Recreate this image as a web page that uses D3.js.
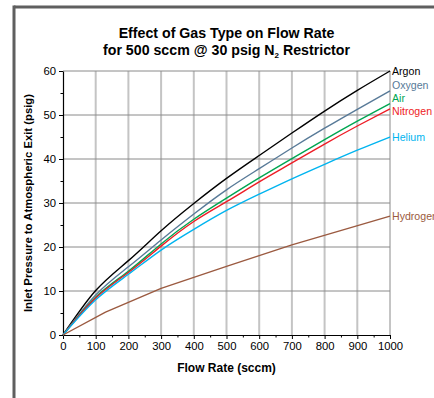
<!DOCTYPE html>
<html><head><meta charset="utf-8">
<script src="https://cdn.jsdelivr.net/npm/d3@7"></script>
<style>body{margin:0;background:#fff;}svg{display:block;font-family:"Liberation Sans",Arial,Helvetica,sans-serif;}</style>
</head><body>
<svg id="c" width="434" height="398"></svg>
<script>
const gases = ["Argon","Oxygen","Air","Nitrogen","Helium","Hydrogen"];
const colors = ["#000000","#587a98","#00a651","#ee1c25","#00b4ef","#9b5a40"];
const flowX = [0,100,200,300,400,500,600,700,800,900,1000];
const argon    = [0,10.1,16.9,23.7,29.9,35.6,40.8,45.9,50.9,55.6,60.0];
const oxygen   = [0,9.1,15.5,21.6,27.5,33.0,37.8,42.5,47.0,51.3,55.5];
const air      = [0,8.6,14.5,20.7,26.3,31.1,35.7,40.1,44.4,48.6,52.6];
const nitrogen = [0,8.4,14.2,20.2,25.8,30.3,34.8,39.1,43.4,47.5,51.4];
const helium   = [0,8.0,13.8,19.3,24.0,28.3,32.0,35.5,38.8,42.0,45.0];
const hydrogenX = [0,130,300,500,700,1000];
const hydrogen  = [0,5.2,10.6,15.6,20.5,27.0];
const xTicks = [0,100,200,300,400,500,600,700,800,900,1000];
const yTicks = [0,10,20,30,40,50,60];

const seriesX = [flowX,flowX,flowX,flowX,flowX,hydrogenX];
const seriesY = [argon,oxygen,air,nitrogen,helium,hydrogen];

const svg = d3.select("#c");
const L=63,R=390,T=71,B=335;
const x = d3.scaleLinear().domain([0,1000]).range([L,R]);
const y = d3.scaleLinear().domain([0,60]).range([B,T]);

// frame
svg.append("line").attr("x1",14).attr("x2",434).attr("y1",7).attr("y2",7).attr("stroke","#5f5f5f").attr("stroke-width",3);
svg.append("line").attr("x1",14).attr("x2",14).attr("y1",5.5).attr("y2",398).attr("stroke","#5f5f5f").attr("stroke-width",3);

// title
const title = svg.append("text").attr("x",(L+R)/2).attr("text-anchor","middle").attr("font-weight","bold").attr("font-size",14.2);
title.append("tspan").attr("x",(L+R)/2).attr("y",38).text("Effect of Gas Type on Flow Rate");
const t2 = title.append("tspan").attr("x",(L+R)/2).attr("y",55);
t2.append("tspan").text("for 500 sccm @ 30 psig N");
t2.append("tspan").attr("font-size",8).attr("dy",3).text("2");
t2.append("tspan").attr("dy",-3).text(" Restrictor");

// grid
svg.append("g").selectAll("line").data(xTicks.slice(1,-1)).join("line")
  .attr("x1",d=>x(d)).attr("x2",d=>x(d)).attr("y1",T).attr("y2",B)
  .attr("stroke","#c4c4c4").attr("stroke-width",2);
svg.append("g").selectAll("line").data(yTicks.slice(1)).join("line")
  .attr("x1",L).attr("x2",R).attr("y1",d=>y(d)).attr("y2",d=>y(d))
  .attr("stroke","#8a8a8a").attr("stroke-width",1);
svg.append("line").attr("x1",R).attr("x2",R).attr("y1",T).attr("y2",B).attr("stroke","#8a8a8a");

// axes
const xAxis = svg.append("g").attr("transform",`translate(0,${B})`)
  .call(d3.axisBottom(x).tickValues(xTicks).tickSize(4).tickSizeOuter(0).tickPadding(3).tickFormat(d3.format("d")));
const xMinor = svg.append("g").attr("transform",`translate(0,${B})`)
  .call(d3.axisBottom(x).tickValues(d3.range(50,1000,100)).tickSize(2.5).tickSizeOuter(0).tickFormat(""));
const yAxis = svg.append("g").attr("transform",`translate(${L},0)`)
  .call(d3.axisLeft(y).tickValues(yTicks).tickSize(4).tickSizeOuter(0).tickPadding(3));
const yMinor = svg.append("g").attr("transform",`translate(${L},0)`)
  .call(d3.axisLeft(y).tickValues(d3.range(5,60,10)).tickSize(2.5).tickSizeOuter(0).tickFormat(""));
[xAxis,yAxis,xMinor,yMinor].forEach(g=>{
  g.selectAll("text").attr("font-size",11.3).attr("fill","#000").attr("font-family","Liberation Sans, Arial, sans-serif");
  g.selectAll("line").attr("stroke","#000");
  g.select(".domain").attr("stroke","#000").attr("stroke-width",1.2);
});
xMinor.select(".domain").remove(); yMinor.select(".domain").remove();

svg.append("text").attr("x",(L+R)/2).attr("y",372).attr("text-anchor","middle")
  .attr("font-weight","bold").attr("font-size",12).text("Flow Rate (sccm)");
svg.append("text").attr("transform",`translate(32,${(T+B)/2}) rotate(-90)`).attr("text-anchor","middle")
  .attr("font-weight","bold").attr("font-size",11.3).text("Inlet Pressure to Atmospheric Exit (psig)");

// lines
gases.forEach((g,i)=>{
  const line = d3.line().x(d=>x(d[0])).y(d=>y(d[1]))
    .curve(i<5 ? d3.curveNatural : d3.curveLinear);
  const pts = seriesX[i].map((v,j)=>[v,seriesY[i][j]]);
  svg.append("path").datum(pts).attr("d",line).attr("fill","none")
    .attr("stroke",colors[i]).attr("stroke-width",1.4).attr("stroke-linejoin","round");
});

// labels with collision relaxation
const gapMin = 12.8;
const lab = gases.map((g,i)=>({g,i,pos:y(seriesY[i][seriesY[i].length-1])}));
for(let it=0;it<80;it++){
  for(let k=0;k<lab.length-1;k++){
    const a=lab[k],b=lab[k+1],gap=b.pos-a.pos;
    if(gap<gapMin){
      const s=(gapMin-gap);
      if(k===0){b.pos+=s;} else {a.pos-=s*0.75;b.pos+=s*0.25;}
    }
  }
}
lab.forEach(l=>{
  svg.append("text").attr("x",R+2).attr("y",l.pos).attr("dy","0.35em")
    .attr("font-size",10.6).attr("fill",colors[l.i]).text(l.g);
});
</script>
</body></html>
